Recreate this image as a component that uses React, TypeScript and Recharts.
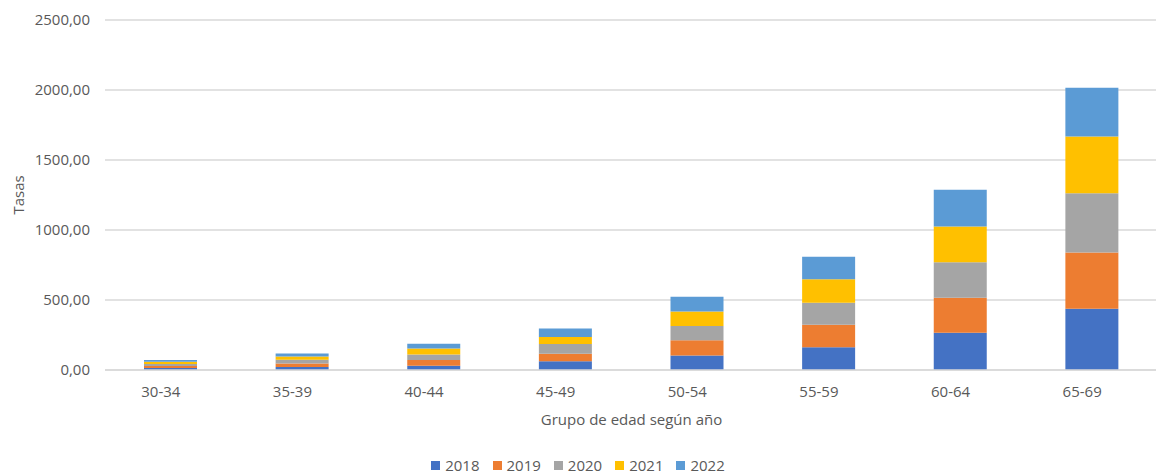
import React from "react";
import {
  Bar,
  BarChart,
  CartesianGrid,
  Legend,
  XAxis,
  YAxis,
} from "recharts";

const ageGroups = ["30-34", "35-39", "40-44", "45-49", "50-54", "55-59", "60-64", "65-69"];

const rates2018 = [14, 22, 31, 62, 103, 163, 266, 437];
const rates2019 = [15, 25, 40, 54, 110, 160, 250, 402];
const rates2020 = [14, 27, 39, 69, 102, 157, 254, 424];
const rates2021 = [16, 22, 44, 50, 102, 169, 255, 405];
const rates2022 = [13, 22, 33, 61, 106, 160, 262, 348];

const yTicks = [0, 500, 1000, 1500, 2000, 2500];

const series = [
  { key: "2018", values: rates2018, color: "#4472C4" },
  { key: "2019", values: rates2019, color: "#ED7D31" },
  { key: "2020", values: rates2020, color: "#A5A5A5" },
  { key: "2021", values: rates2021, color: "#FFC000" },
  { key: "2022", values: rates2022, color: "#5B9BD5" },
];

const data = ageGroups.map((name, i) => {
  const row: Record<string, string | number> = { name };
  series.forEach((s) => {
    row[s.key] = s.values[i];
  });
  return row;
});

const FONT = "'Open Sans', 'Noto Sans', sans-serif";
const TEXT = "#595959";

const fmt = (v: number) => v.toFixed(2).replace(".", ",");

function LegendBox() {
  return (
    <div
      style={{
        display: "flex",
        justifyContent: "center",
        gap: 13,
        height: 16,
        lineHeight: "16px",
        fontFamily: FONT,
        fontSize: 15,
        color: TEXT,
      }}
    >
      {series.map((s) => (
        <div key={s.key} style={{ display: "flex", alignItems: "center" }}>
          <span
            style={{
              width: 9,
              height: 9,
              background: s.color,
              display: "inline-block",
              marginRight: 5,
            }}
          />
          <span>{s.key}</span>
        </div>
      ))}
    </div>
  );
}

export default function App() {
  return (
    <div
      style={{
        position: "absolute",
        left: 0,
        top: 0,
        width: 1156,
        height: 474,
        overflow: "hidden",
        background: "#fff",
      }}
    >
      <BarChart
        width={1160}
        height={474}
        data={data}
        margin={{ top: 20, right: 2, left: 0, bottom: 0 }}
        barSize={53}
      >
        <CartesianGrid vertical={false} stroke="#D9D9D9" strokeWidth={1.5} />
        <XAxis
          dataKey="name"
          height={104}
          axisLine={{ stroke: "#D9D9D9", strokeWidth: 1.5 }}
          tickLine={false}
          tickMargin={10}
          tick={{ fill: TEXT, fontSize: 15, fontFamily: FONT, dx: -10 }}
          label={{
            value: "Grupo de edad según año",
            position: "insideTop",
            offset: 44,
            fill: TEXT,
            fontSize: 15,
            fontFamily: FONT,
          }}
        />
        <YAxis
          width={105}
          domain={[0, 2500]}
          ticks={yTicks}
          axisLine={false}
          tickLine={false}
          tickSize={0}
          tickMargin={15}
          tickFormatter={fmt}
          tick={{ fill: TEXT, fontSize: 15, fontFamily: FONT }}
          label={{
            value: "Tasas",
            angle: -90,
            position: "insideLeft",
            offset: 19,
            fill: TEXT,
            fontSize: 15,
            fontFamily: FONT,
            style: { textAnchor: "middle" },
          }}
        />
        <Legend
          verticalAlign="middle"
          layout="horizontal"
          content={<LegendBox />}
          wrapperStyle={{ top: 457, left: 0, width: 1156, height: 16 }}
        />
        {series.map((s) => (
          <Bar
            key={s.key}
            dataKey={s.key}
            stackId="a"
            fill={s.color}
            isAnimationActive={false}
          />
        ))}
      </BarChart>
    </div>
  );
}
